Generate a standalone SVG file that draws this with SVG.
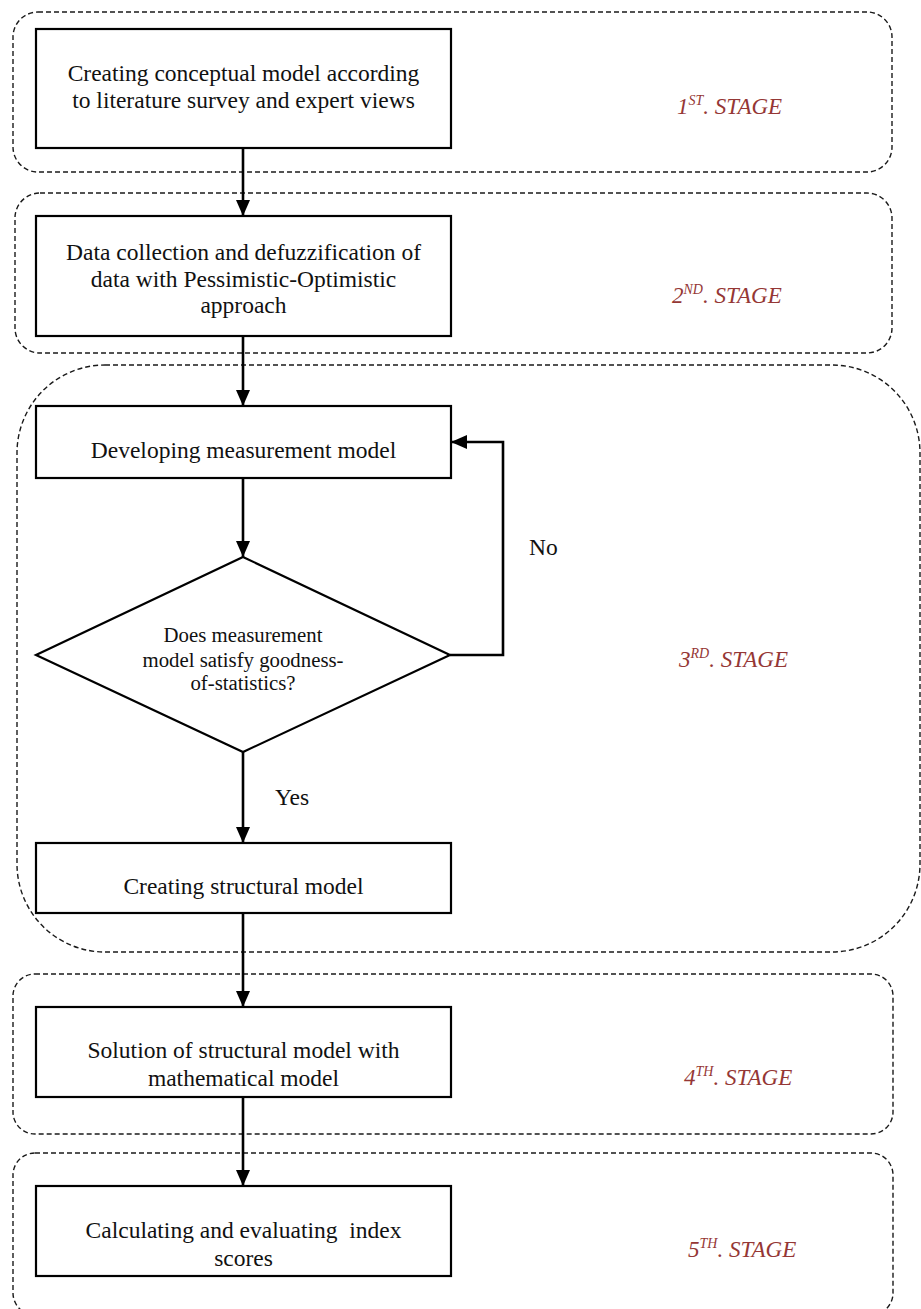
<svg xmlns="http://www.w3.org/2000/svg" width="921" height="1309" viewBox="0 0 921 1309">
  <style>
    .stage { fill: none; stroke: #1a1a1a; stroke-width: 1.4; stroke-dasharray: 5 3; }
    .box { fill: #ffffff; stroke: #000000; stroke-width: 2.2; }
    .txt { font-family: "Liberation Serif", "Times New Roman", serif; font-size: 23.5px; fill: #111111; text-anchor: middle; }
    .small { font-size: 20.8px; }
    .lbl { font-family: "Liberation Serif", "Times New Roman", serif; font-size: 23.5px; fill: #111111; }
    .stg { font-family: "Liberation Serif", "Times New Roman", serif; font-style: italic; font-size: 23px; fill: #953735; }
    .sup { font-size: 14px; }
    .conn { fill: none; stroke: #000000; stroke-width: 2.6; }
  </style>
  <defs>
    <marker id="arrow" markerUnits="userSpaceOnUse" markerWidth="16" markerHeight="14" refX="16" refY="7" orient="auto">
      <path d="M0,0 L16,7 L0,14 z" fill="#000000"/>
    </marker>
  </defs>

  <rect width="921" height="1309" fill="#ffffff"/>

  <!-- stage frames -->
  <g id="stages">
    <rect class="stage" x="13" y="12" width="879" height="160" rx="25" ry="25"/>
    <rect class="stage" x="15" y="193" width="877" height="160" rx="25" ry="25"/>
    <rect class="stage" x="17" y="365" width="903" height="587" rx="88" ry="88"/>
    <rect class="stage" x="13" y="974" width="880" height="160" rx="22" ry="22"/>
    <rect class="stage" x="13" y="1153" width="880" height="162" rx="22" ry="22"/>
  </g>

  <!-- connectors -->
  <g id="connectors">
    <path class="conn" d="M243,148 L243,216" marker-end="url(#arrow)"/>
    <path class="conn" d="M243,336 L243,406" marker-end="url(#arrow)"/>
    <path class="conn" d="M243,478 L243,557" marker-end="url(#arrow)"/>
    <path class="conn" d="M450,655 L503,655 L503,442 L451,442" marker-end="url(#arrow)"/>
    <path class="conn" d="M243,752 L243,843" marker-end="url(#arrow)"/>
    <path class="conn" d="M243,913 L243,1007" marker-end="url(#arrow)"/>
    <path class="conn" d="M243,1097 L243,1186" marker-end="url(#arrow)"/>
    <text class="lbl" x="529" y="555">No</text>
    <text class="lbl" x="275" y="805">Yes</text>
  </g>

  <!-- process steps -->
  <g id="step1">
    <rect class="box" x="36" y="29" width="415" height="119"/>
    <text class="txt" x="243.5" y="81">Creating conceptual model according</text>
    <text class="txt" x="243.5" y="108">to literature survey and expert views</text>
  </g>

  <g id="step2">
    <rect class="box" x="36" y="216" width="415" height="120"/>
    <text class="txt" x="243.5" y="259.5">Data collection and defuzzification of</text>
    <text class="txt" x="243.5" y="286.5">data with Pessimistic-Optimistic</text>
    <text class="txt" x="243.5" y="313">approach</text>
  </g>

  <g id="step3">
    <rect class="box" x="36" y="406" width="415" height="72"/>
    <text class="txt" x="243.5" y="458">Developing measurement model</text>
  </g>

  <g id="decision">
    <polygon class="box" points="243,557 450,655 243,752 36,655"/>
    <text class="txt small" x="243" y="642">Does measurement</text>
    <text class="txt small" x="243" y="666.5">model satisfy goodness-</text>
    <text class="txt small" x="243" y="690">of-statistics?</text>
  </g>

  <g id="step4">
    <rect class="box" x="36" y="843" width="415" height="70"/>
    <text class="txt" x="243.5" y="894">Creating structural model</text>
  </g>

  <g id="step5">
    <rect class="box" x="36" y="1007" width="415" height="90"/>
    <text class="txt" x="243.5" y="1058">Solution of structural model with</text>
    <text class="txt" x="243.5" y="1085.5">mathematical model</text>
  </g>

  <g id="step6">
    <rect class="box" x="36" y="1186" width="415" height="90"/>
    <text class="txt" x="243.5" y="1238" style="white-space:pre">Calculating and evaluating  index</text>
    <text class="txt" x="243.5" y="1265.5">scores</text>
  </g>

  <!-- stage captions -->
  <g id="captions">
    <text class="stg" x="677" y="114">1<tspan class="sup" dy="-9">ST</tspan><tspan dy="9">. STAGE</tspan></text>
    <text class="stg" x="672" y="303">2<tspan class="sup" dy="-9">ND</tspan><tspan dy="9">. STAGE</tspan></text>
    <text class="stg" x="679" y="667">3<tspan class="sup" dy="-9">RD</tspan><tspan dy="9">. STAGE</tspan></text>
    <text class="stg" x="684" y="1085">4<tspan class="sup" dy="-9">TH</tspan><tspan dy="9">. STAGE</tspan></text>
    <text class="stg" x="688" y="1257">5<tspan class="sup" dy="-9">TH</tspan><tspan dy="9">. STAGE</tspan></text>
  </g>
</svg>
